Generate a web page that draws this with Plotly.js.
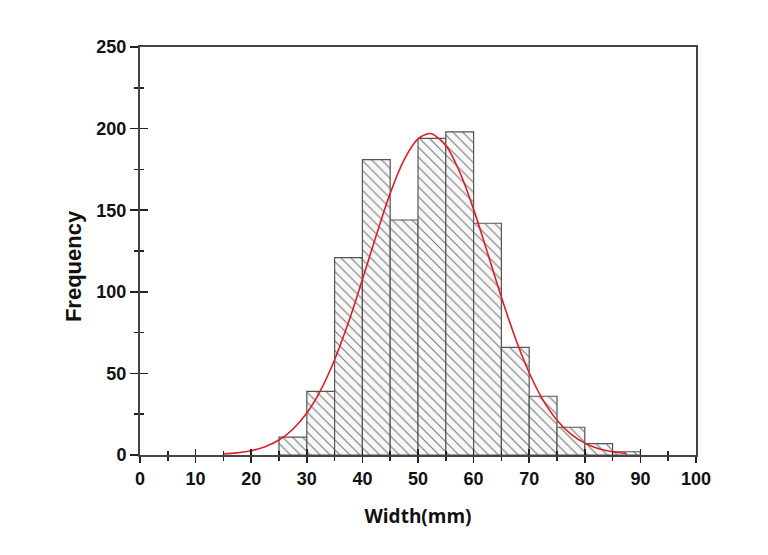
<!DOCTYPE html>
<html>
<head>
<meta charset="utf-8">
<script src="https://cdn.plot.ly/plotly-3.0.1.min.js"></script>
<style>html,body{margin:0;padding:0;background:#fff;}#chart{width:768px;height:555px;}</style>
</head>
<body>
<div id="chart"></div>
<script>
// Histogram bins (centers, width 5) and counts
var binCenters = [27.5, 32.5, 37.5, 42.5, 47.5, 52.5, 57.5, 62.5, 67.5, 72.5, 77.5, 82.5, 87.5];
var counts     = [11, 39, 121, 181, 144, 194, 198, 142, 66, 36, 17, 7, 2];

// Fitted curve, points
var curveX = [15, 17.5, 20, 22.5, 25, 27.5, 30, 32.5, 35, 37.5, 40, 42.5, 45, 47.5, 50, 52, 52.5, 55, 57.5, 60, 62.5, 65, 67.5, 70, 72.5, 75, 77.5, 80, 82.5, 85, 87.5];
var curveY = [0.6, 1.3, 2.6, 5.1, 9.2, 15.8, 25.7, 39.8, 58.4, 81.3, 107.5, 134.7, 160.3, 180.9, 193.7, 197, 196.8, 189.7, 173.4, 150.5, 123.9, 96.7, 71.7, 50.4, 33.6, 21.3, 12.8, 7.3, 3.9, 2.0, 1.0];

var xTickVals = [0, 10, 20, 30, 40, 50, 60, 70, 80, 90, 100];
var yTickVals = [0, 50, 100, 150, 200, 250];

var axisColor = '#444';
var tickFont = {family: 'Liberation Sans, Arial, sans-serif', size: 18, color: '#111', weight: 'bold'};

var traces = [
  {
    type: 'bar', x: binCenters, y: counts, width: 5,
    marker: {
      color: '#ffffff',
      line: {color: '#555', width: 1.2},
      pattern: {shape: '\\', fgcolor: '#777', bgcolor: '#f7f7f7', size: 7, solidity: 0.15}
    },
    hoverinfo: 'skip', showlegend: false
  },
  {
    type: 'scatter', mode: 'lines', x: curveX, y: curveY,
    line: {color: '#dc1f26', width: 1.6, shape: 'spline'},
    hoverinfo: 'skip', showlegend: false
  },
  {
    type: 'scatter', mode: 'markers', x: [null], y: [null], xaxis: 'x2', yaxis: 'y2',
    hoverinfo: 'skip', showlegend: false
  }
];

var layout = {
  width: 768, height: 555,
  margin: {l: 140, r: 72, t: 47, b: 100},
  paper_bgcolor: '#fff', plot_bgcolor: '#fff',
  bargap: 0,
  xaxis: {
    range: [0, 100], tickvals: xTickVals, ticktext: xTickVals.map(String),
    ticks: 'outside', ticklen: 6, tickwidth: 1.5, tickcolor: '#222',
    minor: {dtick: 5, tick0: 0, ticks: 'outside', ticklen: 4, tickwidth: 1.5, tickcolor: '#222'},
    showline: true, linecolor: axisColor, linewidth: 2, mirror: true,
    showgrid: false, zeroline: false, tickfont: tickFont,
    title: {text: 'Width(mm)', font: {family: 'Open Sans, sans-serif', size: 19, color: '#111', weight: 'bold'}, standoff: 22}
  },
  yaxis: {
    range: [0, 250], tickvals: yTickVals, ticktext: yTickVals.map(String),
    ticks: 'outside', ticklen: 8, tickwidth: 1.5, tickcolor: '#222',
    minor: {dtick: 25, tick0: 0, ticks: 'outside', ticklen: 4, tickwidth: 1.5, tickcolor: '#222'},
    showline: true, linecolor: axisColor, linewidth: 2, mirror: true,
    showgrid: false, zeroline: false, tickfont: tickFont
  },
  xaxis2: {
    overlaying: 'x', matches: 'x', range: [0, 100], tickvals: xTickVals, showticklabels: false,
    ticks: 'inside', ticklen: 6, tickwidth: 1.5, tickcolor: '#222',
    minor: {dtick: 5, tick0: 0, ticks: 'inside', ticklen: 4, tickwidth: 1.5, tickcolor: '#222'},
    showline: false, showgrid: false, zeroline: false
  },
  yaxis2: {
    overlaying: 'y', range: [0, 250], tickvals: yTickVals, showticklabels: false,
    ticks: 'inside', ticklen: 8, tickwidth: 1.5, tickcolor: '#222',
    minor: {dtick: 25, tick0: 0, ticks: 'inside', ticklen: 4, tickwidth: 1.5, tickcolor: '#222'},
    showline: false, showgrid: false, zeroline: false
  },
  annotations: [{
    text: 'Frequency', textangle: -90, showarrow: false,
    xref: 'paper', yref: 'paper', x: -0.1205, y: 0.463, xanchor: 'center', yanchor: 'middle',
    font: {family: 'Liberation Sans, Arial, sans-serif', size: 22, color: '#111', weight: 'bold'}
  }]
};

Plotly.newPlot('chart', traces, layout, {displayModeBar: false, staticPlot: true});
</script>
</body>
</html>
